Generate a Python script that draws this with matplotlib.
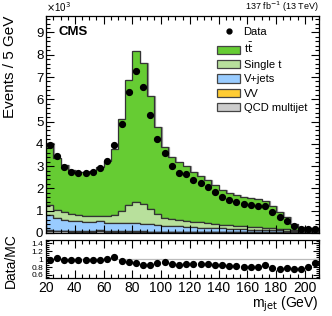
import numpy as np
import matplotlib
matplotlib.use("Agg")
import matplotlib.pyplot as plt
from matplotlib.ticker import MultipleLocator, FuncFormatter
from matplotlib.patches import Patch
from matplotlib.lines import Line2D

plt.rcParams['font.family'] = ['Liberation Sans', 'DejaVu Sans']

# binning: 5 GeV bins from 20 to 210 GeV
edges = np.arange(20, 215, 5)
centers = 0.5 * (edges[:-1] + edges[1:])

# events (x 10^3), per bin
data = [3.93, 3.45, 2.97, 2.75, 2.70, 2.69, 2.75, 2.90, 3.24, 3.94,
        4.90, 6.34, 7.26, 6.55, 5.29, 4.22, 3.59, 2.99, 2.69, 2.63,
        2.36, 2.23, 2.06, 1.84, 1.63, 1.48, 1.39, 1.30, 1.26, 1.22,
        1.21, 0.96, 0.70, 0.54, 0.31, 0.19, 0.19, 0.18]

qcd = [0.10, 0.08, 0.07, 0.06, 0.06, 0.05, 0.05, 0.09, 0.05, 0.05,
       0.05, 0.05, 0.05, 0.05, 0.04, 0.04, 0.04, 0.04, 0.04, 0.04,
       0.03, 0.03, 0.03, 0.03, 0.03, 0.03, 0.03, 0.02, 0.02, 0.02,
       0.02, 0.02, 0.02, 0.02, 0.01, 0.01, 0.01, 0.01]

vv = [0.02, 0.02, 0.02, 0.02, 0.02, 0.02, 0.02, 0.02, 0.02, 0.02,
      0.02, 0.02, 0.02, 0.02, 0.02, 0.02, 0.01, 0.01, 0.01, 0.01,
      0.01, 0.01, 0.01, 0.01, 0.01, 0.01, 0.01, 0.01, 0.01, 0.01,
      0.01, 0.01, 0.01, 0.01, 0.01, 0.00, 0.00, 0.00]

vjets = [0.70, 0.55, 0.49, 0.47, 0.44, 0.43, 0.41, 0.42, 0.39, 0.38,
         0.37, 0.36, 0.36, 0.34, 0.33, 0.30, 0.26, 0.26, 0.24, 0.23,
         0.21, 0.20, 0.18, 0.17, 0.16, 0.15, 0.14, 0.13, 0.12, 0.11,
         0.10, 0.09, 0.08, 0.07, 0.05, 0.04, 0.03, 0.03]

single_t = [0.43, 0.37, 0.35, 0.32, 0.30, 0.28, 0.28, 0.25, 0.28, 0.36,
            0.55, 0.82, 0.95, 0.88, 0.70, 0.48, 0.37, 0.31, 0.29, 0.27,
            0.25, 0.23, 0.21, 0.19, 0.17, 0.16, 0.15, 0.14, 0.13, 0.12,
            0.11, 0.10, 0.08, 0.06, 0.05, 0.04, 0.03, 0.03]

mc_total = [4.03, 3.35, 3.05, 2.83, 2.75, 2.72, 2.79, 2.98, 3.25, 3.78,
            5.10, 6.85, 8.15, 7.62, 6.13, 4.74, 3.87, 3.42, 3.18, 3.00,
            2.72, 2.55, 2.36, 2.17, 1.94, 1.80, 1.70, 1.61, 1.56, 1.52,
            1.43, 1.22, 0.92, 0.70, 0.42, 0.25, 0.24, 0.20]

data = np.array(data)
others = np.array(qcd) + np.array(vv) + np.array(vjets) + np.array(single_t)
ttbar = np.array(mc_total) - others
mc = np.array(mc_total)

fig = plt.figure(figsize=(3.32, 3.16), dpi=100)
ax = fig.add_axes([0.139, 0.263, 0.822, 0.687])
rax = fig.add_axes([0.139, 0.120, 0.822, 0.120])

colors = ['#cccccc', '#ffcc33', '#99ccff', '#b8e09c', '#66cc33']
labels = ['QCD multijet', 'VV', 'V+jets', 'Single t', r't$\bar{\rm t}$']

# light shadow of the total stack, then the stack itself
ax.stairs(mc, edges + 0.6, color='#999999', linewidth=0.9)
ax.hist([centers] * 5, bins=edges,
        weights=[qcd, vv, vjets, single_t, ttbar],
        stacked=True, histtype='stepfilled', color=colors,
        edgecolor='#333333', linewidth=0.9)

err = np.sqrt(data * 1000) / 1000
ax.errorbar(centers, data, yerr=err, fmt='o', color='black', ms=4.2,
            elinewidth=0.8, capsize=0)

ax.set_xlim(20, 210)
ax.set_ylim(0, 9.75)
ax.set_ylabel('Events / 5 GeV', fontsize=11, loc='top')
ax.yaxis.set_label_coords(-0.105, 1.0)
ax.yaxis.set_major_locator(MultipleLocator(1))
ax.yaxis.set_minor_locator(MultipleLocator(0.2))
ax.xaxis.set_major_locator(MultipleLocator(20))
ax.xaxis.set_minor_locator(MultipleLocator(5))

for a in (ax, rax):
    a.tick_params(which='both', direction='in', top=True, right=True,
                  labelsize=9.5, pad=2)
    a.tick_params(which='major', length=6, width=0.8)
    a.tick_params(which='minor', length=3, width=0.8)
    for s in a.spines.values():
        s.set_linewidth(0.9)
ax.tick_params(axis='x', labelbottom=False)

ax.text(0.0, 1.01, r'$\times$10$^{3}$', transform=ax.transAxes,
        fontsize=7, ha='left', va='bottom')
ax.text(1.0, 1.01, r'137 fb$^{-1}$ (13 TeV)', transform=ax.transAxes,
        fontsize=6.5, ha='right', va='bottom')
ax.text(0.045, 0.926, 'CMS', transform=ax.transAxes, fontsize=9.5,
        fontweight='bold', ha='left', va='center')

# legend
handles = [Line2D([], [], marker='o', color='black', ls='none', ms=3.5)]
handles += [Patch(facecolor=c, edgecolor='#444444', linewidth=0.9)
            for c in colors[::-1]]
ax.legend(handles, ['Data'] + labels[::-1], loc='upper right',
          bbox_to_anchor=(0.98, 0.98), frameon=False, fontsize=8,
          handlelength=2.1, handleheight=0.75, handletextpad=0.3,
          labelspacing=0.4, borderaxespad=0.2)

ratio = data / mc
rax.axhline(1.0, color='#bbbbbb', linewidth=0.9)
rax.errorbar(centers, ratio, yerr=err / mc, fmt='o', color='black', ms=4.2,
             elinewidth=0.8, capsize=0)
rax.set_xlim(20, 210)
rax.set_ylim(0.52, 1.48)
rax.yaxis.set_major_locator(MultipleLocator(0.2))
rax.yaxis.set_minor_locator(MultipleLocator(0.05))
rax.xaxis.set_major_locator(MultipleLocator(20))
rax.xaxis.set_minor_locator(MultipleLocator(5))
rax.yaxis.set_major_formatter(FuncFormatter(lambda v, p: '%g' % round(v, 2)))
rax.tick_params(axis='y', labelsize=6, which='both')
rax.tick_params(axis='y', which='major', length=4)
rax.tick_params(axis='y', which='minor', length=2)
rax.tick_params(axis='x', labelsize=10)
rax.set_ylabel('Data/MC', fontsize=10)
rax.yaxis.set_label_coords(-0.105, 0.45)
rax.set_xlabel(r'm$_{\rm jet}$ (GeV)', fontsize=10, loc='right', labelpad=0)

fig.savefig('out.png', dpi=100)
